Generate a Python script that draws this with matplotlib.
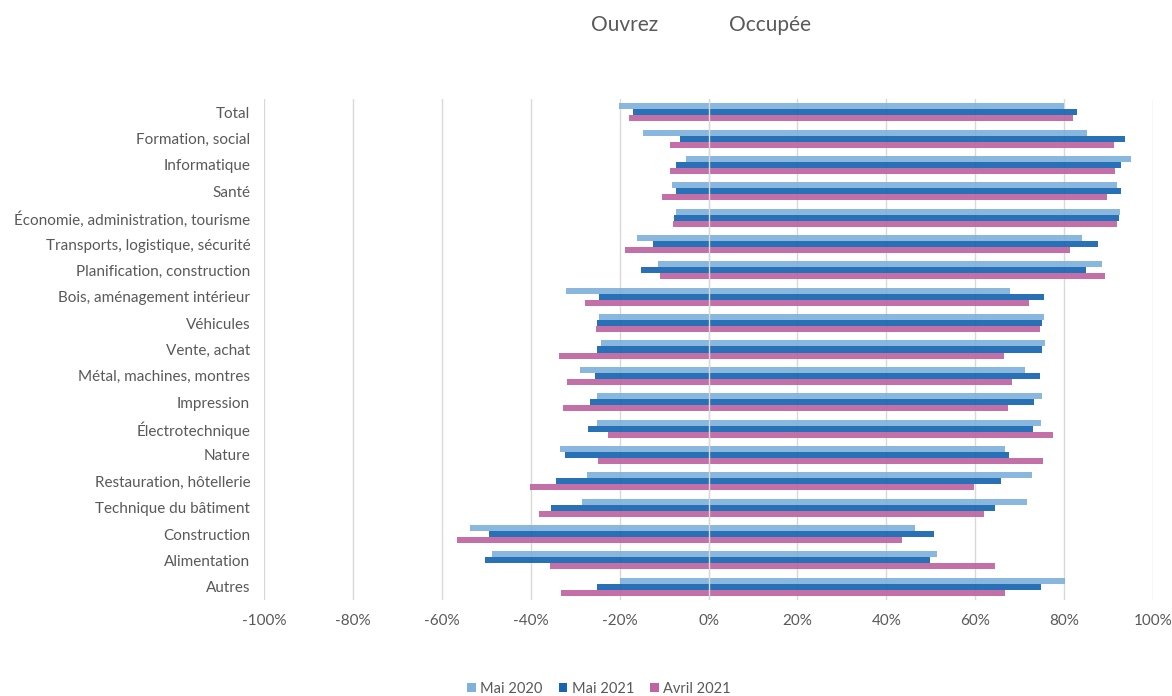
import matplotlib
matplotlib.use("Agg")
import matplotlib.pyplot as plt
from matplotlib.patches import Patch
from matplotlib.ticker import FuncFormatter
import numpy as np

categories = ["Total", "Formation, social", "Informatique", "Santé",
              "Économie, administration, tourisme", "Transports, logistique, sécurité",
              "Planification, construction", "Bois, aménagement intérieur", "Véhicules",
              "Vente, achat", "Métal, machines, montres", "Impression", "Électrotechnique",
              "Nature", "Restauration, hôtellerie", "Technique du bâtiment", "Construction",
              "Alimentation", "Autres"]

series = ["Mai 2020", "Mai 2021", "Avril 2021"]

# "Ouvrez" (negative side), in %
ouvrez_mai2020 = [-20.2, -14.8, -5.0, -8.2, -7.4, -16.0, -11.4, -32.1, -24.6, -24.3,
                  -28.9, -25.1, -25.2, -33.4, -27.3, -28.4, -53.6, -48.7, -19.9]
ouvrez_mai2021 = [-17.1, -6.5, -7.3, -7.3, -7.7, -12.5, -15.1, -24.6, -25.0, -25.0,
                  -25.5, -26.7, -27.1, -32.3, -34.3, -35.5, -49.3, -50.2, -25.2]
ouvrez_avr2021 = [-17.9, -8.7, -8.6, -10.4, -8.0, -18.8, -10.9, -27.8, -25.4, -33.6,
                  -31.8, -32.7, -22.6, -24.8, -40.2, -38.2, -56.5, -35.7, -33.3]

# "Occupée" (positive side), in %
occupee_mai2020 = [79.9, 85.2, 95.1, 91.8, 92.6, 84.1, 88.6, 67.9, 75.4, 75.7,
                   71.1, 75.0, 74.9, 66.7, 72.8, 71.6, 46.4, 51.4, 80.2]
occupee_mai2021 = [83.0, 93.6, 92.8, 92.7, 92.3, 87.7, 85.0, 75.5, 75.1, 75.0,
                   74.5, 73.3, 73.0, 67.7, 65.8, 64.4, 50.8, 49.8, 74.9]
occupee_avr2021 = [82.1, 91.3, 91.4, 89.7, 92.0, 81.3, 89.1, 72.2, 74.6, 66.5,
                   68.2, 67.3, 77.4, 75.3, 59.8, 61.9, 43.6, 64.4, 66.6]

colors = ["#7fb1da", "#1565b0", "#be64a2"]
text_col = "#595959"
font = ["Lato", "DejaVu Sans"]
plt.rcParams["font.family"] = font

fig = plt.figure(figsize=(11.72, 6.96), dpi=100)
ax = fig.add_axes([0.2253, 0.1379, 0.7585, 0.7199])

y = np.arange(len(categories))
h = 0.228
neg = [ouvrez_mai2020, ouvrez_mai2021, ouvrez_avr2021]
pos = [occupee_mai2020, occupee_mai2021, occupee_avr2021]
for k in range(3):
    off = (k - 1) * h
    ax.barh(y + off, neg[k], height=h, color=colors[k], alpha=0.92, zorder=2)
    ax.barh(y + off, pos[k], height=h, color=colors[k], alpha=0.92, zorder=2)

ax.set_xlim(-100, 100)
ax.set_ylim(len(categories) - 0.5, -0.5)
ax.set_xticks(np.arange(-100, 101, 20))
ax.xaxis.set_major_formatter(FuncFormatter(lambda v, p: f"{int(round(v))}%"))
ax.set_yticks(y)
ax.set_yticklabels(categories)
ax.grid(axis="x", color="#d9d9d9", linewidth=1, zorder=0)
ax.axvline(0, color="#d9d9d9", linewidth=1, zorder=3)
ax.set_axisbelow(True)
for s in ax.spines.values():
    s.set_visible(False)
ax.tick_params(axis="both", length=0, labelsize=11, colors=text_col)
ax.tick_params(axis="x", pad=10)
ax.tick_params(axis="y", pad=10)

fig.text(625 / 1172, 1 - 25 / 696, "Ouvrez", ha="center", va="center",
         fontsize=15, color=text_col)
fig.text(770 / 1172, 1 - 25 / 696, "Occupée", ha="center", va="center",
         fontsize=15, color=text_col)

handles = [Patch(facecolor=c, label=s) for c, s in zip(colors, series)]
leg = fig.legend(handles=handles, loc="center", bbox_to_anchor=(0.511, 1 - 689 / 696),
                 ncol=3, frameon=False, fontsize=10.5, handlelength=0.6, handleheight=0.6,
                 handletextpad=0.3, columnspacing=1.1)
for t in leg.get_texts():
    t.set_color(text_col)

fig.savefig("out.png", dpi=100)
